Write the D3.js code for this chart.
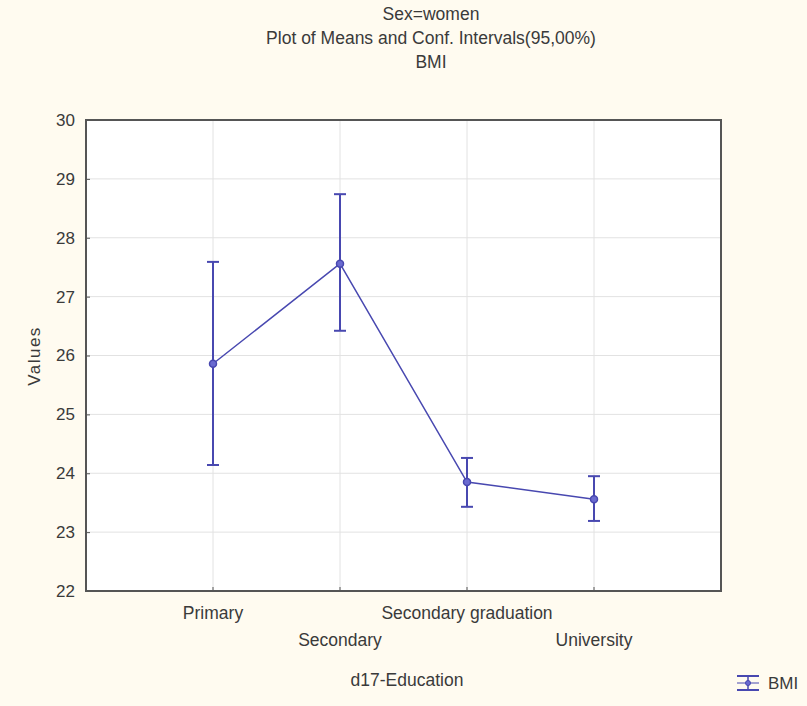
<!DOCTYPE html>
<html>
<head>
<meta charset="utf-8">
<script src="https://cdn.jsdelivr.net/npm/d3@7"></script>
<style>
  body { margin: 0; background: #fffbf0; }
  text { font-family: "Liberation Sans", Arial, sans-serif; fill: #3a3a3a; }
</style>
</head>
<body>
<div id="chart"></div>
<script>
// Data
const categories = ["Primary", "Secondary", "Secondary graduation", "University"];
const means = [25.86, 27.56, 23.85, 23.56];
const upper = [27.59, 28.74, 24.26, 23.95];
const lower = [24.14, 26.42, 23.43, 23.19];
const yTicks = [22, 23, 24, 25, 26, 27, 28, 29, 30];
const titles = ["Sex=women", "Plot of Means and Conf. Intervals(95,00%)", "BMI"];

const W = 807, H = 706;
const margin = {top: 120, right: 86, bottom: 115, left: 86};

const svg = d3.select("#chart")
  .append("svg")
  .attr("width", W)
  .attr("height", H);

svg.append("rect").attr("width", W).attr("height", H).attr("fill", "#fffbf0");

// Scales: categories sit at positions 1..4 in a 0..5 range
const x = d3.scaleLinear()
  .domain([0, categories.length + 1])
  .range([margin.left, W - margin.right]);
const y = d3.scaleLinear()
  .domain([22, 30])
  .range([H - margin.bottom, margin.top]);

// Plot area
svg.append("rect")
  .attr("x", margin.left)
  .attr("y", margin.top)
  .attr("width", x.range()[1] - x.range()[0])
  .attr("height", y.range()[0] - y.range()[1])
  .attr("fill", "#fff");

// Gridlines
svg.append("g")
  .selectAll("line")
  .data(yTicks.slice(1, -1))
  .join("line")
  .attr("x1", margin.left).attr("x2", W - margin.right)
  .attr("y1", d => y(d)).attr("y2", d => y(d))
  .attr("stroke", "#e2e2e2");
svg.append("g")
  .selectAll("line")
  .data(categories)
  .join("line")
  .attr("x1", (d, i) => x(i + 1)).attr("x2", (d, i) => x(i + 1))
  .attr("y1", margin.top).attr("y2", H - margin.bottom)
  .attr("stroke", "#e2e2e2");

// Y axis
const yAxis = svg.append("g")
  .attr("transform", `translate(${margin.left},0)`)
  .call(d3.axisLeft(y).tickValues(yTicks).tickSize(-4).tickPadding(11));
yAxis.select(".domain").remove();
yAxis.selectAll("line").attr("stroke", "#555");
yAxis.selectAll("text")
  .style("font-size", "17px")
  .style("font-family", "'Liberation Sans', Arial, sans-serif")
  .attr("fill", "#3a3a3a");

// X ticks (small inside ticks on bottom border)
svg.append("g")
  .selectAll("line")
  .data(categories)
  .join("line")
  .attr("x1", (d, i) => x(i + 1)).attr("x2", (d, i) => x(i + 1))
  .attr("y1", H - margin.bottom).attr("y2", H - margin.bottom - 4)
  .attr("stroke", "#555");

// X labels staggered
svg.append("g")
  .selectAll("text")
  .data(categories)
  .join("text")
  .attr("x", (d, i) => x(i + 1))
  .attr("y", (d, i) => i % 2 === 0 ? 619 : 646)
  .attr("text-anchor", "middle")
  .style("font-size", "17.5px")
  .text(d => d);

// Frame
svg.append("rect")
  .attr("x", margin.left)
  .attr("y", margin.top)
  .attr("width", x.range()[1] - x.range()[0])
  .attr("height", y.range()[0] - y.range()[1])
  .attr("fill", "none")
  .attr("stroke", "#555")
  .attr("stroke-width", 2);

const blue = "#4848b0";

// Error bars
const bars = svg.append("g").attr("stroke", blue).attr("stroke-width", 2);
categories.forEach((c, i) => {
  const cx = x(i + 1);
  bars.append("line").attr("x1", cx).attr("x2", cx).attr("y1", y(upper[i])).attr("y2", y(lower[i]));
  bars.append("line").attr("x1", cx - 6).attr("x2", cx + 6).attr("y1", y(upper[i])).attr("y2", y(upper[i]));
  bars.append("line").attr("x1", cx - 6).attr("x2", cx + 6).attr("y1", y(lower[i])).attr("y2", y(lower[i]));
});

// Mean line
const line = d3.line()
  .x((d, i) => x(i + 1))
  .y(d => y(d));
svg.append("path")
  .datum(means)
  .attr("fill", "none")
  .attr("stroke", blue)
  .attr("stroke-width", 1.5)
  .attr("d", line);

svg.selectAll("circle.mean")
  .data(means)
  .join("circle")
  .attr("class", "mean")
  .attr("cx", (d, i) => x(i + 1))
  .attr("cy", d => y(d))
  .attr("r", 3.5)
  .attr("fill", "#6a6ad0")
  .attr("stroke", blue)
  .attr("stroke-width", 1.5);

// Titles
svg.append("g")
  .selectAll("text")
  .data(titles)
  .join("text")
  .attr("x", 431)
  .attr("y", (d, i) => 20 + i * 24)
  .attr("text-anchor", "middle")
  .style("font-size", "17.5px")
  .text(d => d);

// Axis titles
svg.append("text")
  .attr("x", 407)
  .attr("y", 686)
  .attr("text-anchor", "middle")
  .style("font-size", "17.5px")
  .text("d17-Education");

svg.append("text")
  .attr("transform", "rotate(-90)")
  .attr("x", -356)
  .attr("y", 40)
  .attr("text-anchor", "middle")
  .style("font-size", "17px")
  .style("letter-spacing", "1.5px")
  .text("Values");

// Legend
const lg = svg.append("g").attr("transform", "translate(748,683)");
lg.append("line").attr("x1", -11).attr("x2", 11).attr("y1", -7).attr("y2", -7).attr("stroke", blue).attr("stroke-width", 2);
lg.append("line").attr("x1", -11).attr("x2", 11).attr("y1", 7).attr("y2", 7).attr("stroke", blue).attr("stroke-width", 2);
lg.append("line").attr("x1", 0).attr("x2", 0).attr("y1", -7).attr("y2", 7).attr("stroke", blue).attr("stroke-width", 1.5);
lg.append("line").attr("x1", -11).attr("x2", 11).attr("y1", 0).attr("y2", 0).attr("stroke", blue).attr("stroke-width", 1);
lg.append("circle").attr("r", 2.5).attr("fill", "#6a6ad0").attr("stroke", blue);
lg.append("text").attr("x", 20).attr("y", 6).style("font-size", "17px").text("BMI");
</script>
</body>
</html>
